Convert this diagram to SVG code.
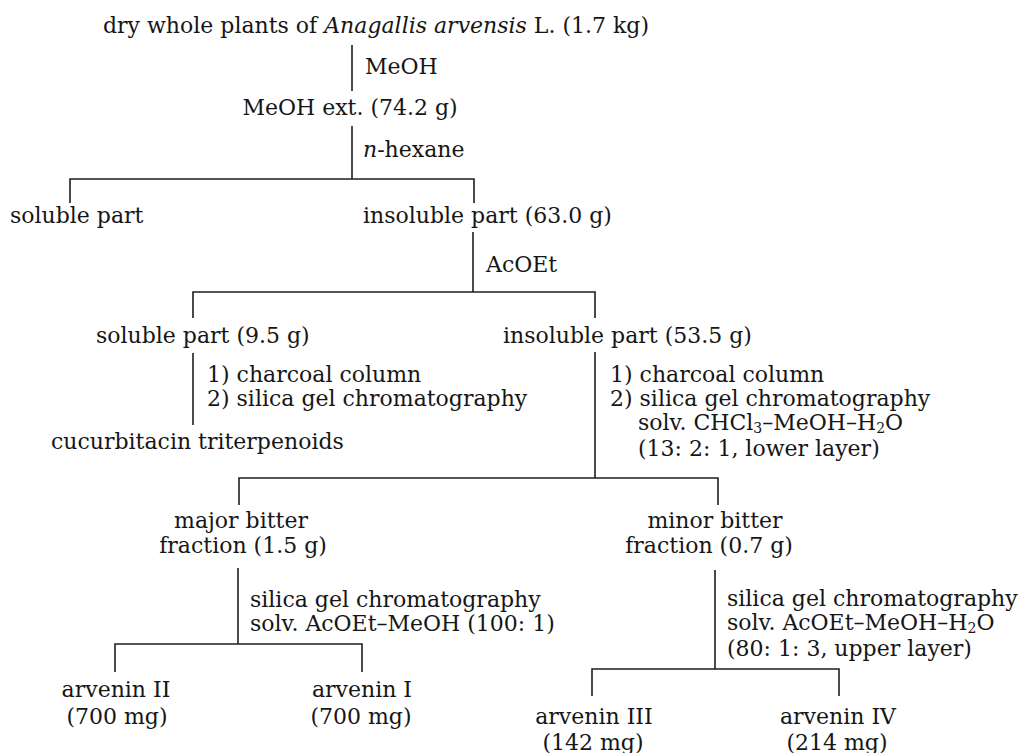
<svg xmlns="http://www.w3.org/2000/svg" width="1020" height="753" viewBox="0 0 1020 753">
<style>
  text { font-family: "DejaVu Serif", "Liberation Serif", serif; font-size: 22px; fill: #161616; }
  .mid { text-anchor: middle; }
  .it { font-style: italic; }
  .sub { font-size: 14px; }
  .conn path { fill: none; stroke: #1e1e1e; stroke-width: 1.6; }
</style>
<rect width="1020" height="753" fill="#ffffff"/>

<g id="connectors" class="conn">
  <path d="M352 45 V91"/>
  <path d="M352 126 V179"/>
  <path d="M70 203 V179 H474 V203"/>
  <path d="M473 232 V292"/>
  <path d="M193 318 V292 H595 V318"/>
  <path d="M193 353 V425"/>
  <path d="M595 352 V478"/>
  <path d="M239 505 V478 H718 V505"/>
  <path d="M238 568 V644"/>
  <path d="M115 672 V644 H362 V672"/>
  <path d="M715 570 V669"/>
  <path d="M592 696 V669 H839 V696"/>
</g>

<g id="edge-labels">
  <text x="365" y="74">MeOH</text>
  <text x="363" y="157"><tspan class="it">n</tspan>-hexane</text>
  <text x="486" y="272">AcOEt</text>
  <text x="207" y="382">1) charcoal column</text>
  <text x="207" y="406">2) silica gel chromatography</text>
  <text x="610" y="382">1) charcoal column</text>
  <text x="610" y="406">2) silica gel chromatography</text>
  <text x="638" y="430">solv. CHCl<tspan class="sub" dy="3">3</tspan><tspan dy="-3">–MeOH–H</tspan><tspan class="sub" dy="3">2</tspan><tspan dy="-3">O</tspan></text>
  <text x="638" y="456">(13: 2: 1, lower layer)</text>
  <text x="250" y="607">silica gel chromatography</text>
  <text x="250" y="631">solv. AcOEt–MeOH (100: 1)</text>
  <text x="727" y="606">silica gel chromatography</text>
  <text x="727" y="630">solv. AcOEt–MeOH–H<tspan class="sub" dy="3">2</tspan><tspan dy="-3">O</tspan></text>
  <text x="727" y="656">(80: 1: 3, upper layer)</text>
</g>

<g id="n-plants"><text x="103" y="33">dry whole plants of <tspan class="it">Anagallis arvensis</tspan> L. (1.7 kg)</text></g>
<g id="n-meoh-ext"><text class="mid" x="350" y="115">MeOH ext. (74.2 g)</text></g>
<g id="n-hexane-soluble"><text x="10" y="223">soluble part</text></g>
<g id="n-hexane-insoluble"><text x="363" y="223">insoluble part (63.0 g)</text></g>
<g id="n-acoet-soluble"><text x="96" y="343">soluble part (9.5 g)</text></g>
<g id="n-acoet-insoluble"><text x="503" y="343">insoluble part (53.5 g)</text></g>
<g id="n-cucurbitacin"><text x="51" y="449">cucurbitacin triterpenoids</text></g>
<g id="n-major"><text class="mid" x="241" y="528">major bitter</text><text class="mid" x="243" y="553">fraction (1.5 g)</text></g>
<g id="n-minor"><text class="mid" x="715" y="528">minor bitter</text><text class="mid" x="709" y="553">fraction (0.7 g)</text></g>
<g id="n-arvenin-2"><text class="mid" x="116" y="697">arvenin II</text><text class="mid" x="117" y="724">(700 mg)</text></g>
<g id="n-arvenin-1"><text class="mid" x="362" y="697">arvenin I</text><text class="mid" x="361" y="724">(700 mg)</text></g>
<g id="n-arvenin-3"><text class="mid" x="594" y="724">arvenin III</text><text class="mid" x="593" y="750">(142 mg)</text></g>
<g id="n-arvenin-4"><text class="mid" x="838" y="724">arvenin IV</text><text class="mid" x="837" y="750">(214 mg)</text></g>
</svg>
